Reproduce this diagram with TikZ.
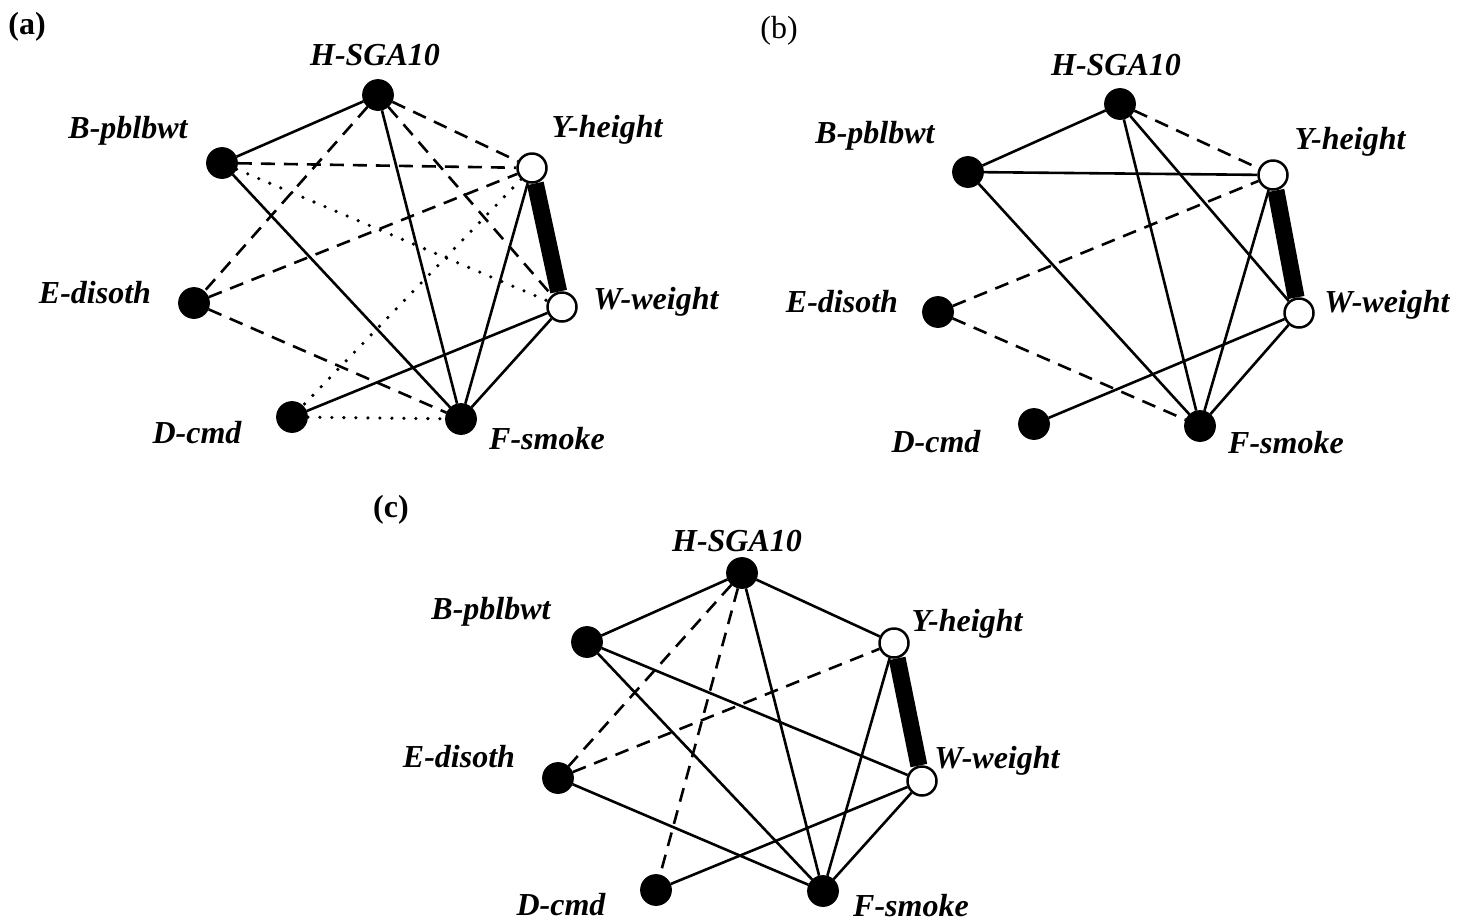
\documentclass[tikz,border=0pt]{standalone}
\usepackage{fontspec}
\setmainfont{Liberation Serif}
\pgfdeclarelayer{background}
\pgfsetlayers{background,main}
\tikzset{
  fullnode/.style={circle, fill=black, draw=black, line width=1.8pt, minimum size=30pt, inner sep=0pt},
  opennode/.style={circle, fill=white, draw=black, line width=2.5pt, minimum size=29pt, inner sep=0pt},
  lbl/.style={font=\fontsize{32}{38}\selectfont\bfseries\itshape, inner sep=0pt},
  panel/.style={font=\fontsize{32}{38}\selectfont, inner sep=0pt},
  sol/.style={line width=2.6pt},
  dsh/.style={line width=2.6pt, dash pattern=on 14pt off 9pt},
  dtt/.style={line width=3.6pt, line cap=round, dash pattern=on 0pt off 12pt},
  thk/.style={line width=17pt}
}
\begin{document}
\begin{tikzpicture}[x=1pt,y=-1pt]
\useasboundingbox (0,0) rectangle (1467,922);
% ---------------- panel (a)
\node[panel,font=\fontsize{32}{38}\selectfont\bfseries] (pa) at (27,27) {(a)};
\node[fullnode] (aH) at (378,95) {};
\node[fullnode] (aB) at (222,163) {};
\node[opennode] (aY) at (532,168) {};
\node[fullnode] (aE) at (194,303) {};
\node[opennode] (aW) at (562,307) {};
\node[fullnode] (aD) at (292,417) {};
\node[fullnode] (aF) at (461,419) {};
\node[lbl] (laH) at (375,55) {H-SGA10};
\node[lbl] (laB) at (128,131) {B-pblbwt};
\node[lbl] (laY) at (607,130) {Y-height};
\node[lbl] (laE) at (95,293) {E-disoth};
\node[lbl] (laW) at (656,302) {W-weight};
\node[lbl] (laD) at (197,433) {D-cmd};
\node[lbl] (laF) at (547,439) {F-smoke};
\begin{pgfonlayer}{background}
\draw[sol] (aH) -- (aB);
\draw[sol] (aH) -- (aF);
\draw[sol] (aB) -- (aF);
\draw[sol] (aY) -- (aF);
\draw[sol] (aW) -- (aD);
\draw[sol] (aW) -- (aF);
\draw[dsh] (aH) -- (aE);
\draw[dsh] (aH) -- (aY);
\draw[dsh] (aH) -- (aW);
\draw[dsh] (aB) -- (aY);
\draw[dsh] (aE) -- (aY);
\draw[dsh] (aE) -- (aF);
\draw[dtt] (aB) -- (aW);
\draw[dtt] (aY) -- (aD);
\draw[dtt] (aD) -- (aF);
\draw[thk] (aY) -- (aW);
\end{pgfonlayer}
% ---------------- panel (b)
\node[panel] (pb) at (779,31) {(b)};
\node[fullnode] (bH) at (1120,104) {};
\node[fullnode] (bB) at (968,172) {};
\node[opennode] (bY) at (1273,175) {};
\node[fullnode] (bE) at (938,312) {};
\node[opennode] (bW) at (1299,313) {};
\node[fullnode] (bD) at (1034,424) {};
\node[fullnode] (bF) at (1200,426) {};
\node[lbl] (lbH) at (1116,65) {H-SGA10};
\node[lbl] (lbB) at (875,136) {B-pblbwt};
\node[lbl] (lbY) at (1350,142) {Y-height};
\node[lbl] (lbE) at (842,302) {E-disoth};
\node[lbl] (lbW) at (1387,305) {W-weight};
\node[lbl] (lbD) at (936,442) {D-cmd};
\node[lbl] (lbF) at (1286,443) {F-smoke};
\begin{pgfonlayer}{background}
\draw[sol] (bH) -- (bB);
\draw[sol] (bH) -- (bF);
\draw[sol] (bH) -- (bW);
\draw[sol] (bB) -- (bY);
\draw[sol] (bB) -- (bF);
\draw[sol] (bY) -- (bF);
\draw[sol] (bW) -- (bD);
\draw[sol] (bW) -- (bF);
\draw[dsh] (bH) -- (bY);
\draw[dsh] (bE) -- (bY);
\draw[dsh] (bE) -- (bF);
\draw[thk] (bY) -- (bW);
\end{pgfonlayer}
% ---------------- panel (c)
\node[panel,font=\fontsize{32}{38}\selectfont\bfseries] (pc) at (391,510) {(c)};
\node[fullnode] (cH) at (742,573) {};
\node[fullnode] (cB) at (587,642) {};
\node[opennode] (cY) at (894,643) {};
\node[fullnode] (cE) at (558,778) {};
\node[opennode] (cW) at (922,781) {};
\node[fullnode] (cD) at (656,890) {};
\node[fullnode] (cF) at (823,891) {};
\node[lbl] (lcH) at (737,541) {H-SGA10};
\node[lbl] (lcB) at (491,612) {B-pblbwt};
\node[lbl] (lcY) at (967,624) {Y-height};
\node[lbl] (lcE) at (459,757) {E-disoth};
\node[lbl] (lcW) at (997,761) {W-weight};
\node[lbl] (lcD) at (561,905) {D-cmd};
\node[lbl] (lcF) at (911,906) {F-smoke};
\begin{pgfonlayer}{background}
\draw[sol] (cH) -- (cB);
\draw[sol] (cH) -- (cY);
\draw[sol] (cH) -- (cF);
\draw[sol] (cB) -- (cW);
\draw[sol] (cB) -- (cF);
\draw[sol] (cE) -- (cF);
\draw[sol] (cY) -- (cF);
\draw[sol] (cW) -- (cD);
\draw[sol] (cW) -- (cF);
\draw[dsh] (cH) -- (cE);
\draw[dsh] (cH) -- (cD);
\draw[dsh] (cE) -- (cY);
\draw[thk] (cY) -- (cW);
\end{pgfonlayer}
\end{tikzpicture}
\end{document}
